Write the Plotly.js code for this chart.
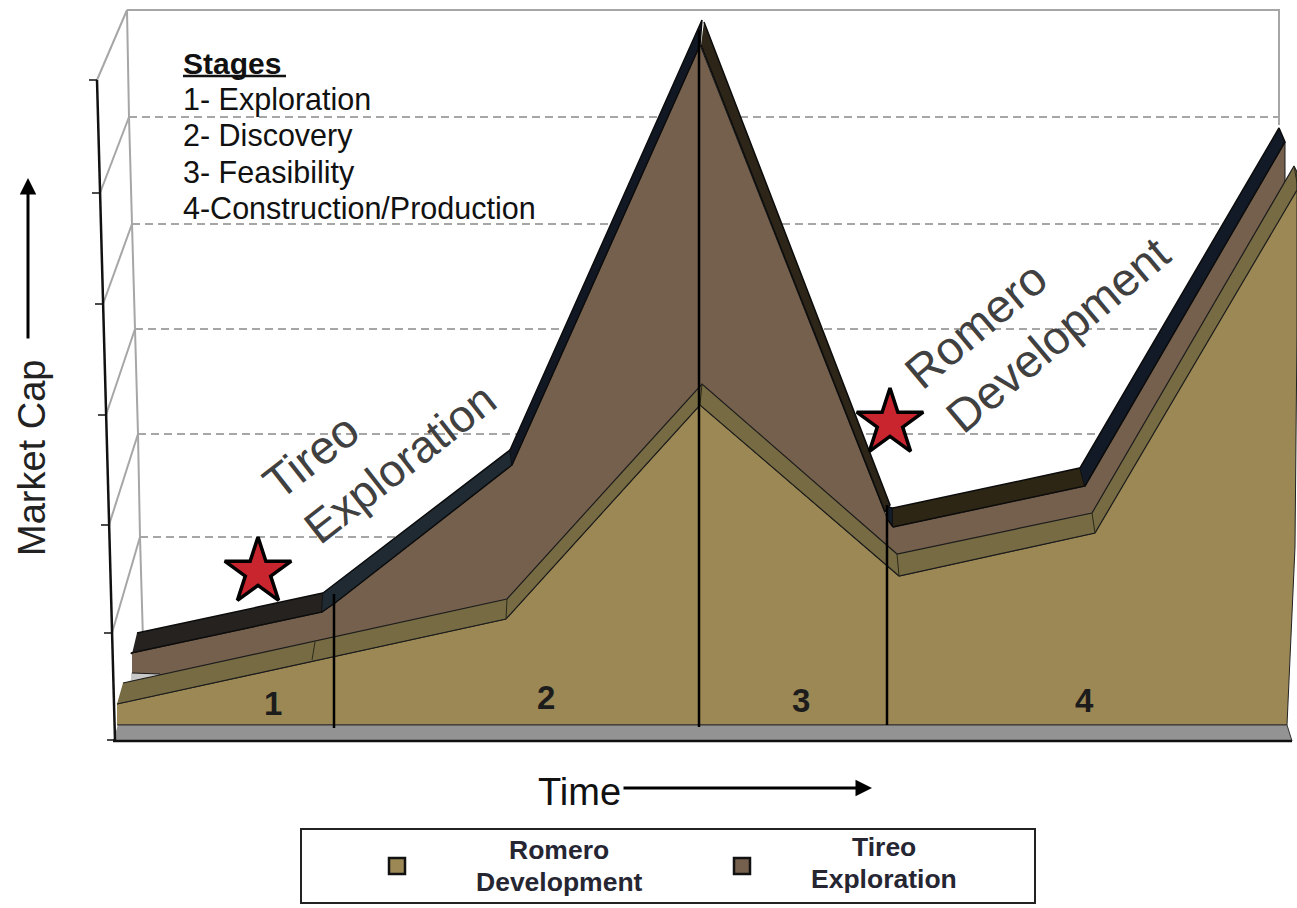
<!DOCTYPE html>
<html><head><meta charset="utf-8">
<script src="https://cdn.plot.ly/plotly-3.0.1.min.js"></script>
<style>html,body{margin:0;padding:0;background:#fff;overflow:hidden}#c{width:1297px;height:908px}</style>
</head><body><div id="c"></div>
<script>
// Picture-space readings (x to the right, y downward)
const tireoFaceX = [132,322,335,512,700,887,893,1085,1285,1285,1283,1283,160,160,132];
const tireoFaceY = [653,612,603,465,45,518,527,486,142,190,190,720,720,674,673];
const sliverX = [131,160,131];
const sliverY = [673,674,682];
const romeroBandX = [123,507,702,897,1092,1294,1297,1297,1095,899,700,506,117];
const romeroBandY = [683,599,384,554,513,166,172,190,533,576,405,619,704];
const romeroFaceX = [117,506,700,899,1095,1297,1297,1295,1287,117];
const romeroFaceY = [704,619,405,576,533,183,330,547,725,725];
const floorX = [118,1287,1292,113];
const floorY = [725,725,741,741];
const bandSegX = [
  [137,323,322,131,132],
  [323,510,512,335,322],
  [510,702,700,512],
  [704,890,885,701],
  [888,893,893,888],
  [893,1080,1085,893],
  [1080,1279,1285,1085]
];
const bandSegY = [
  [633,593,612,653,654],
  [593,450,465,603,612],
  [450,20,45,465],
  [22,505,512,45],
  [507,508,527,520],
  [508,468,486,527],
  [468,128,142,486]
];
const bandColors = ['#26221f','#1f2a33','#111824','#2c2518','#141c28','#2e2614','#111a26'];
const wallX = [127,1279,1279];
const wallY = [10,10,125];
const backEdgeX = [127,129,132,135,138,140,143];
const backEdgeY = [10,117,224,329,434,537,640];
const gridY = [117,224,329,434,537];
const gridEndX = [1278,1230,1170,1110,430];
const axisX = [97,100,103,106,109,112,115];
const axisY = [80,193,304,415,525,633,740];
const dividerX = [334,699,887];
const dividerTop = [594,30,505];
const dividerBottom = [728,727,725];
const seamX = [[315,312],[507,506],[702,700],[897,899],[1092,1095],[1294,1297]];
const seamY = [[642,660],[599,619],[384,405],[554,576],[513,533],[166,183]];
const starX = [258,890];
const starY = [572,423];
const stageLabels = ['1','2','3','4'];
const stageX = [273,546,801,1084];
const stageY = [703,697,700,700];
const stagesList = ['1- Exploration','2- Discovery','3- Feasibility','4-Construction/Production'];
const stagesListY = [99,135,172,208];
const legendX = [397,742];
const legendY = [866,866];

const FONT = 'Liberation Sans, Arial, sans-serif';
const traces = [];
function poly(x,y,fill,lc,lw,name){
  traces.push({type:'scatter',mode:'lines',x:x,y:y,fill:'toself',fillcolor:fill,
    line:{color:lc,width:lw,shape:'linear'},hoverinfo:'skip',showlegend:false,name:name||''});
}
function line(x,y,c,w,d){
  traces.push({type:'scatter',mode:'lines',x:x,y:y,line:{color:c,width:w,dash:d||'solid'},hoverinfo:'skip',showlegend:false});
}
// back wall
line(wallX,wallY,'#a6a6a6',2);
line(backEdgeX,backEdgeY,'#a6a6a6',2);
backEdgeX.forEach((bx,i)=>line([axisX[i],bx],[axisY[i],backEdgeY[i]],'#a6a6a6',2));
gridY.forEach((gy,i)=>line([backEdgeX[i+1],gridEndX[i]],[gy,gy],'#a6a6a6',2,'8px,5px'));
// Tireo
poly(sliverX,sliverY,'#c8c8c8','#c8c8c8',0.5);
poly(tireoFaceX,tireoFaceY,'#75604e','#1a1a1a',1,'Tireo Exploration');
bandSegX.forEach((sx,i)=>poly(sx,bandSegY[i],bandColors[i],'#0c0c0c',1.5));
// Romero
poly(romeroFaceX,romeroFaceY,'#9c8855','#222222',1,'Romero Development');
poly(romeroBandX,romeroBandY,'#776b43','#1c1c1c',1.2);
seamX.forEach((sx,i)=>line(sx,seamY[i],'#2a2a1a',1));
// floor
poly(floorX,floorY,'#939393','#333333',1);
line(floorX.slice(2).reverse(),[741,741],'#111111',2.5);
// axis
line(axisX,axisY,'#111111',2.5);
axisX.forEach((ax,i)=>line([ax-8,ax],[axisY[i],axisY[i]],'#111111',1.5));
// dividers
dividerX.forEach((dx,i)=>line([dx,dx],[dividerTop[i],dividerBottom[i]],'#000000',2.5));
// stars
traces.push({type:'scatter',mode:'markers',x:starX,y:starY,hoverinfo:'skip',showlegend:false,
  marker:{symbol:'star',size:50,color:'#c9252f',line:{color:'#000000',width:3.5}}});
// legend swatches
traces.push({type:'scatter',mode:'markers',x:[legendX[0]],y:[legendY[0]],hoverinfo:'skip',showlegend:false,
  marker:{symbol:'square',size:16,color:'#9c8855',line:{color:'#111111',width:2.5}}});
traces.push({type:'scatter',mode:'markers',x:[legendX[1]],y:[legendY[1]],hoverinfo:'skip',showlegend:false,
  marker:{symbol:'square',size:16,color:'#75604e',line:{color:'#111111',width:2.5}}});

function note(text,x,y,size,opt){
  return Object.assign({text:text,x:x,y:y,xref:'x',yref:'y',showarrow:false,xanchor:'center',yanchor:'middle',
    font:{family:FONT,size:size,color:'#111111'}},opt||{});
}
const anns = [];
anns.push(note('<b>Stages</b>',181,63,30,{xanchor:'left'}));
stagesList.forEach((t,i)=>anns.push(note(t,181,stagesListY[i],30.5,{xanchor:'left'})));
stageLabels.forEach((t,i)=>anns.push(note('<b>'+t+'</b>',stageX[i],stageY[i],33,{font:{family:FONT,size:33,color:'#1c1c1c'}})));
anns.push(note('Tireo',310,456,47,{textangle:-38,font:{family:FONT,size:47,color:'#404040'}}));
anns.push(note('Exploration',400,463,45.5,{textangle:-38,font:{family:FONT,size:45.5,color:'#404040'}}));
anns.push(note('Romero',975,325,47,{textangle:-40,font:{family:FONT,size:47,color:'#404040'}}));
anns.push(note('Development',1058,335,46.5,{textangle:-40,font:{family:FONT,size:46.5,color:'#404040'}}));
anns.push(note('Market Cap',32,458,38,{textangle:-90,font:{family:FONT,size:38,color:'#222222'}}));
anns.push(note('Time',579,792,38,{font:{family:FONT,size:38,color:'#111111'}}));
const legendFont = {family:FONT,size:26.5,color:'#262633'};
anns.push(note('<b>Romero</b>',559,850,26.5,{font:legendFont}));
anns.push(note('<b>Development</b>',559,882,26.5,{font:legendFont}));
anns.push(note('<b>Tireo</b>',884,847,26.5,{font:legendFont}));
anns.push(note('<b>Exploration</b>',884,879,26.5,{font:legendFont}));
// arrows
anns.push({x:28,y:178,ax:28,ay:340,xref:'x',yref:'y',axref:'x',ayref:'y',text:'',showarrow:true,arrowhead:2,arrowsize:1.1,arrowwidth:3,arrowcolor:'#000'});
anns.push({x:872,y:788,ax:622,ay:788,xref:'x',yref:'y',axref:'x',ayref:'y',text:'',showarrow:true,arrowhead:2,arrowsize:1.1,arrowwidth:3,arrowcolor:'#000'});

const layout = {
  width:1297,height:908,margin:{l:0,r:0,t:0,b:0},paper_bgcolor:'#fff',plot_bgcolor:'#fff',showlegend:false,
  xaxis:{range:[0,1297],visible:false,fixedrange:true},
  yaxis:{range:[908,0],visible:false,fixedrange:true},
  annotations:anns,
  shapes:[
    {type:'rect',xref:'x',yref:'y',x0:301,x1:1035,y0:829,y1:903,line:{color:'#222222',width:2},fillcolor:'rgba(0,0,0,0)'},
    {type:'line',xref:'x',yref:'y',x0:183,x1:286,y0:76,y1:76,line:{color:'#111111',width:2.5}}
  ]
};
Plotly.newPlot('c',traces,layout,{displayModeBar:false,staticPlot:true});
</script></body></html>
